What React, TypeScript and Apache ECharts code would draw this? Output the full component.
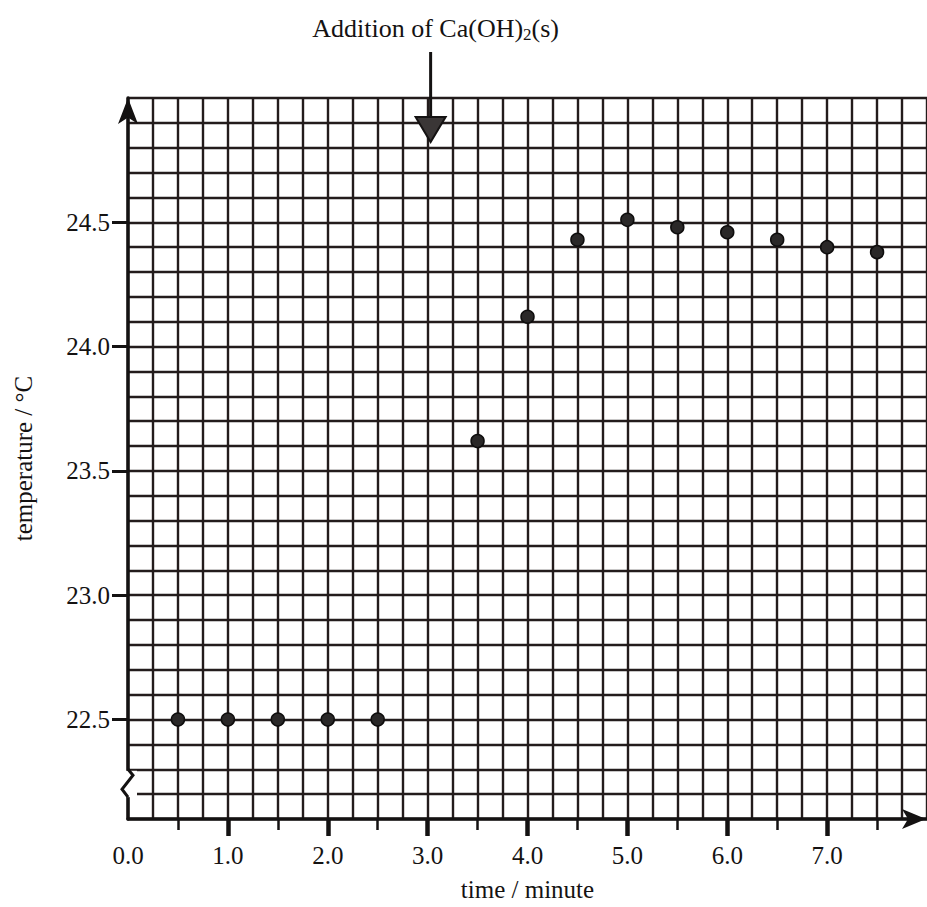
import React, { useEffect, useRef } from "react";
import * as echarts from "echarts";

// ---- data ----
const times = [0.5, 1.0, 1.5, 2.0, 2.5, 3.5, 4.0, 4.5, 5.0, 5.5, 6.0, 6.5, 7.0, 7.5];
const temperatures = [22.5, 22.5, 22.5, 22.5, 22.5, 23.62, 24.12, 24.43, 24.51, 24.48, 24.46, 24.43, 24.4, 24.38];
const xLabelValues = [0, 1, 2, 3, 4, 5, 6, 7];
const xMajorTickValues = [1, 2, 3, 4, 5, 6, 7];
const xMinorTickValues = [0.5, 1.5, 2.5, 3.5, 4.5, 5.5, 6.5, 7.5];
const yLabelValues = [22.5, 23.0, 23.5, 24.0, 24.5];
const xMin = 0;
const xMax = 8;
const xGridStep = 0.25;
const yMin = 22.1;
const yMax = 25.0;
const yGridStep = 0.1;
const additionTime = 3.0;
const breakFrom = 22.3;
const breakTo = 22.2;

const FONT = "'Liberation Serif', 'Times New Roman', serif";
const INK = "#141212";
const GRIDC = "#231c1c";

export default function App() {
  const ref = useRef<HTMLDivElement>(null);
  useEffect(() => {
    if (!ref.current) return;
    const chart = echarts.init(ref.current, undefined, { renderer: "svg" });
    const baseX = { type: "value", min: xMin, max: xMax, interval: xGridStep, position: "bottom" };
    const baseY = { type: "value", min: yMin, max: yMax, interval: yGridStep, position: "left" };
    const option: any = {
      animation: false,
      backgroundColor: "#ffffff",
      grid: { left: 128, right: 0, top: 98, bottom: 84, containLabel: false },
      xAxis: [
        {
          ...baseX,
          name: "time / minute",
          nameLocation: "middle",
          nameGap: 58,
          nameTextStyle: { fontFamily: FONT, fontSize: 25, color: INK },
          axisLine: {
            show: true,
            lineStyle: { color: INK, width: 3.5 },
            symbol: ["none", "arrow"],
            symbolSize: [15, 24],
            symbolOffset: [0, -1],
          },
          axisTick: { show: false },
          axisLabel: { show: false },
          splitLine: { show: true, lineStyle: { color: GRIDC, width: 2.4 } },
          z: 3,
        },
        {
          ...baseX,
          axisLine: { show: false },
          axisTick: {
            show: true,
            length: 11,
            lineStyle: { color: INK, width: 2.5 },
            customValues: xMinorTickValues,
          },
          axisLabel: {
            show: true,
            margin: 24,
            fontFamily: FONT,
            fontSize: 25,
            color: INK,
            customValues: xLabelValues,
            formatter: (v: number) => v.toFixed(1),
          },
          splitLine: { show: false },
        },
        {
          ...baseX,
          axisLine: { show: false },
          axisTick: {
            show: true,
            length: 17,
            lineStyle: { color: INK, width: 4.5 },
            customValues: xMajorTickValues,
          },
          axisLabel: { show: false },
          splitLine: { show: false },
        },
      ],
      yAxis: [
        {
          ...baseY,
          name: "temperature / °C",
          nameLocation: "middle",
          nameGap: 92,
          nameRotate: 90,
          nameTextStyle: { fontFamily: FONT, fontSize: 25, color: INK },
          axisLine: {
            show: true,
            lineStyle: { color: INK, width: 3.5 },
            symbol: ["none", "arrow"],
            symbolSize: [15, 26],
            symbolOffset: [0, 0],
          },
          axisTick: { show: false },
          axisLabel: { show: false },
          splitLine: { show: true, lineStyle: { color: GRIDC, width: 2.4 } },
          z: 3,
        },
        {
          ...baseY,
          axisLine: { show: false },
          axisTick: {
            show: true,
            length: 16,
            lineStyle: { color: INK, width: 3 },
            customValues: yLabelValues,
          },
          axisLabel: {
            show: true,
            margin: 18,
            fontFamily: FONT,
            fontSize: 25,
            color: INK,
            customValues: yLabelValues,
            formatter: (v: number) => v.toFixed(1),
          },
          splitLine: { show: false },
        },
      ],
      series: [
        {
          type: "scatter",
          xAxisIndex: 0,
          yAxisIndex: 0,
          data: times.map((t, i) => [t, temperatures[i]]),
          symbol: "circle",
          symbolSize: 13,
          itemStyle: { color: "#2a2828", borderColor: "#0e0d0d", borderWidth: 1.5, opacity: 1 },
          z: 5,
        },
      ],
    };
    chart.setOption(option);

    const [ax, topY] = chart.convertToPixel({ gridIndex: 0 }, [additionTime, yMax]) as number[];
    const [ox] = chart.convertToPixel({ gridIndex: 0 }, [xMin, yMin]) as number[];
    const bTop = (chart.convertToPixel({ gridIndex: 0 }, [xMin, breakFrom]) as number[])[1];
    const bBot = (chart.convertToPixel({ gridIndex: 0 }, [xMin, breakTo]) as number[])[1];

    chart.setOption({
      graphic: [
        {
          type: "rect",
          z: 100,
          shape: { x: ox - 4, y: bTop + 1.5, width: 13, height: bBot - bTop + 1.5 },
          style: { fill: "#ffffff" },
        },
        {
          type: "polyline",
          z: 101,
          shape: {
            points: [
              [ox, bTop],
              [ox + 5, bTop + 6],
              [ox - 6, bTop + 20],
              [ox, bBot + 3],
            ],
          },
          style: { stroke: INK, lineWidth: 3, fill: "none" },
        },
        {
          type: "line",
          z: 100,
          shape: { x1: ax + 3, y1: topY - 46, x2: ax + 3, y2: topY + 22 },
          style: { stroke: INK, lineWidth: 3 },
        },
        {
          type: "polygon",
          z: 101,
          shape: {
            points: [
              [ax + 3 - 15, topY + 19],
              [ax + 3 + 15, topY + 19],
              [ax + 3, topY + 44],
            ],
          },
          style: { fill: "#3a3636", stroke: INK, lineWidth: 2 },
        },
        {
          type: "text",
          z: 100,
          x: ax + 8,
          y: topY - 70,
          style: {
            text: "{a|Addition of Ca(OH)}{b|2}{a|(s)}",
            align: "center",
            verticalAlign: "middle",
            fill: INK,
            rich: {
              a: { fontFamily: FONT, fontSize: 26, fill: INK, verticalAlign: "bottom" },
              b: { fontFamily: FONT, fontSize: 17, fill: INK, verticalAlign: "bottom", padding: [0, 0, -2, 0] },
            },
          },
        },
      ],
    });

    return () => chart.dispose();
  }, []);

  return (
    <div
      ref={ref}
      style={{ position: "fixed", left: 0, top: 0, width: 927, height: 907, background: "#fff" }}
    />
  );
}
